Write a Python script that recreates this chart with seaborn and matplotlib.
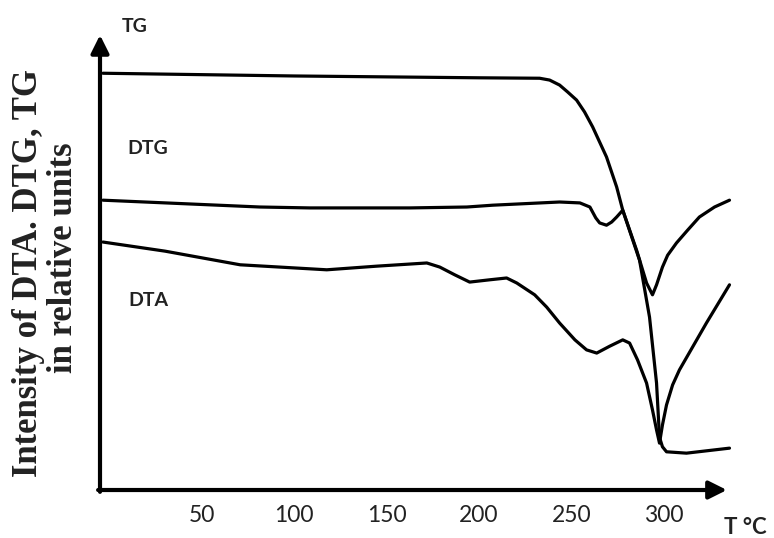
import matplotlib
matplotlib.use("Agg")
import matplotlib.pyplot as plt
import pandas as pd
import seaborn as sns

# 溫度 (°C) 與相對強度，讀自原圖
tg_temp = [-3.6, 100, 200, 232.9, 238.3, 243.7, 248.0, 252.9, 257.2, 261.6,
           269.1, 274.6, 277.9, 287.0, 292.4, 296.2, 297.8, 299.4, 301.6,
           312.4, 335.7]
tg_val = [91.6, 91.0, 90.6, 90.5, 90.1, 89.0, 87.5, 85.7, 83.1, 79.8,
          73.2, 66.6, 61.5, 50.5, 38.0, 23.5, 11.6, 9.5, 8.4,
          8.1, 9.2]

dtg_temp = [-3.6, 81.4, 108.4, 162.6, 193.5, 207.5, 243.7, 254.7, 260.1, 263.3,
            265.4, 269.1, 271.9, 274.6, 277.9, 285.4, 290.8, 292.4, 294.0,
            296.2, 299.4, 302.2, 307.0, 313.0, 319.4, 327.6, 335.7]
dtg_val = [63.7, 62.2, 62.0, 62.0, 62.2, 62.6, 63.3, 63.1, 62.2, 59.8,
           58.7, 58.2, 58.9, 60.0, 61.5, 52.7, 45.5, 44.2, 42.9,
           45.1, 49.0, 51.6, 54.3, 57.1, 60.0, 62.2, 63.7]

dta_temp = [-3.6, 30.0, 70.7, 117.6, 144.7, 171.8, 178.8, 186.9, 195.0, 205.8,
            215.0, 220.5, 230.2, 236.7, 243.7, 252.0, 258.3, 263.8, 270.8,
            277.9, 281.6, 285.9, 290.8, 294.0, 296.2, 297.8, 299.4, 301.6,
            304.9, 308.6, 323.2, 335.7]
dta_val = [54.5, 52.5, 49.5, 48.4, 49.2, 49.9, 49.0, 47.3, 45.7, 46.2,
           46.6, 45.5, 42.9, 40.2, 36.7, 33.0, 30.8, 30.1, 31.6,
           33.0, 32.3, 28.6, 23.5, 17.6, 13.2, 10.3, 14.3, 18.7,
           23.1, 26.4, 36.7, 45.1]

x_ticks = [50, 100, 150, 200, 250, 300]

sns.set_theme(style="white")
plt.rcParams["font.family"] = ["Lato", "DejaVu Sans"]

fig = plt.figure(figsize=(7.74, 5.38), dpi=100)
ax = fig.add_axes([0.1292, 0.0892, 0.814, 0.8457])

for temp, val in [(tg_temp, tg_val), (dtg_temp, dtg_val), (dta_temp, dta_val)]:
    df = pd.DataFrame({"T": temp, "v": val})
    sns.lineplot(data=df, x="T", y="v", sort=False, color="black",
                 linewidth=2.3, ax=ax, clip_on=False)
for line in ax.get_lines():
    line.set_solid_joinstyle("round")
    line.set_solid_capstyle("round")

ax.set_xlim(-5.2, 336)
ax.set_ylim(0, 100)
ax.set_xticks(x_ticks)
ax.set_xticklabels([str(t) for t in x_ticks])
ax.set_yticks([])
ax.set_xlabel("")
ax.set_ylabel("")
ax.tick_params(axis="x", length=0, pad=11, labelsize=16.5, colors="#222222")

for side in ["top", "right", "left", "bottom"]:
    ax.spines[side].set_visible(False)

# 座標軸箭頭
arrow = dict(arrowstyle="-|>,head_length=0.9,head_width=0.45", lw=3, color="black",
             shrinkA=0, shrinkB=0)
ax.annotate("", xy=(0.995, 0), xytext=(-0.003, 0), xycoords="axes fraction",
            arrowprops=arrow, annotation_clip=False)
ax.annotate("", xy=(0, 1.0), xytext=(0, -0.004), xycoords="axes fraction",
            arrowprops=arrow, annotation_clip=False)

# 曲線名稱
label_kw = dict(ha="center", va="center", fontsize=14, fontweight="bold",
                color="#222222")
fig.text(135 / 774, 1 - 27 / 538, "TG", **label_kw)
fig.text(148 / 774, 1 - 149 / 538, "DTG", **label_kw)
fig.text(148 / 774, 1 - 301 / 538, "DTA", **label_kw)
fig.text(745 / 774, 1 - 527 / 538, "T °C", ha="center", va="center",
         fontsize=16, fontweight="bold", color="#222222")

serif_kw = dict(rotation=90, ha="center", va="center",
                family=["Liberation Serif", "DejaVu Serif"], fontweight="bold",
                fontsize=25, color="#222222")
fig.text(29 / 774, 1 - 273 / 538, "Intensity of DTA. DTG, TG", **serif_kw)
fig.text(64 / 774, 1 - 258 / 538, "in relative units", **serif_kw)

fig.savefig("out.png", dpi=100)
